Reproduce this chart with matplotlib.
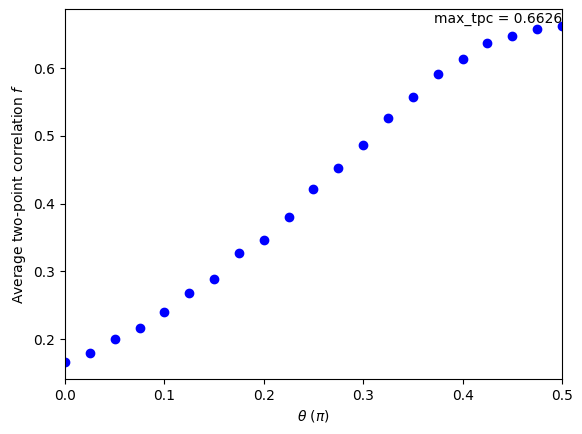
import numpy as np
import matplotlib
matplotlib.use('Agg')
import matplotlib.pyplot as plt

theta = [0.0, 0.025, 0.05, 0.075, 0.1, 0.125, 0.15, 0.175, 0.2, 0.225, 0.25,
         0.275, 0.3, 0.325, 0.35, 0.375, 0.4, 0.425, 0.45, 0.475, 0.5]
tpc = [0.166, 0.179, 0.200, 0.216, 0.240, 0.268, 0.289, 0.327, 0.347, 0.380, 0.422,
       0.453, 0.487, 0.527, 0.558, 0.592, 0.614, 0.6375, 0.648, 0.658, 0.6626]
max_tpc = 0.6626

fig = plt.figure(figsize=(5.82, 4.34), dpi=100)
fig.subplots_adjust(left=0.1117, right=0.9656, top=0.9793, bottom=0.1267)
ax = fig.add_subplot(111)
ax.plot(theta, tpc, 'bo')
ax.set_xlim(0, 0.5)
ax.set_xlabel(r'$\theta$ ($\pi$)')
ax.set_ylabel('Average two-point correlation $f$')
ax.text(0.5, max_tpc, 'max_tpc = %.4f' % max_tpc, ha='right', va='bottom')

fig.savefig('out.png', dpi=100)
